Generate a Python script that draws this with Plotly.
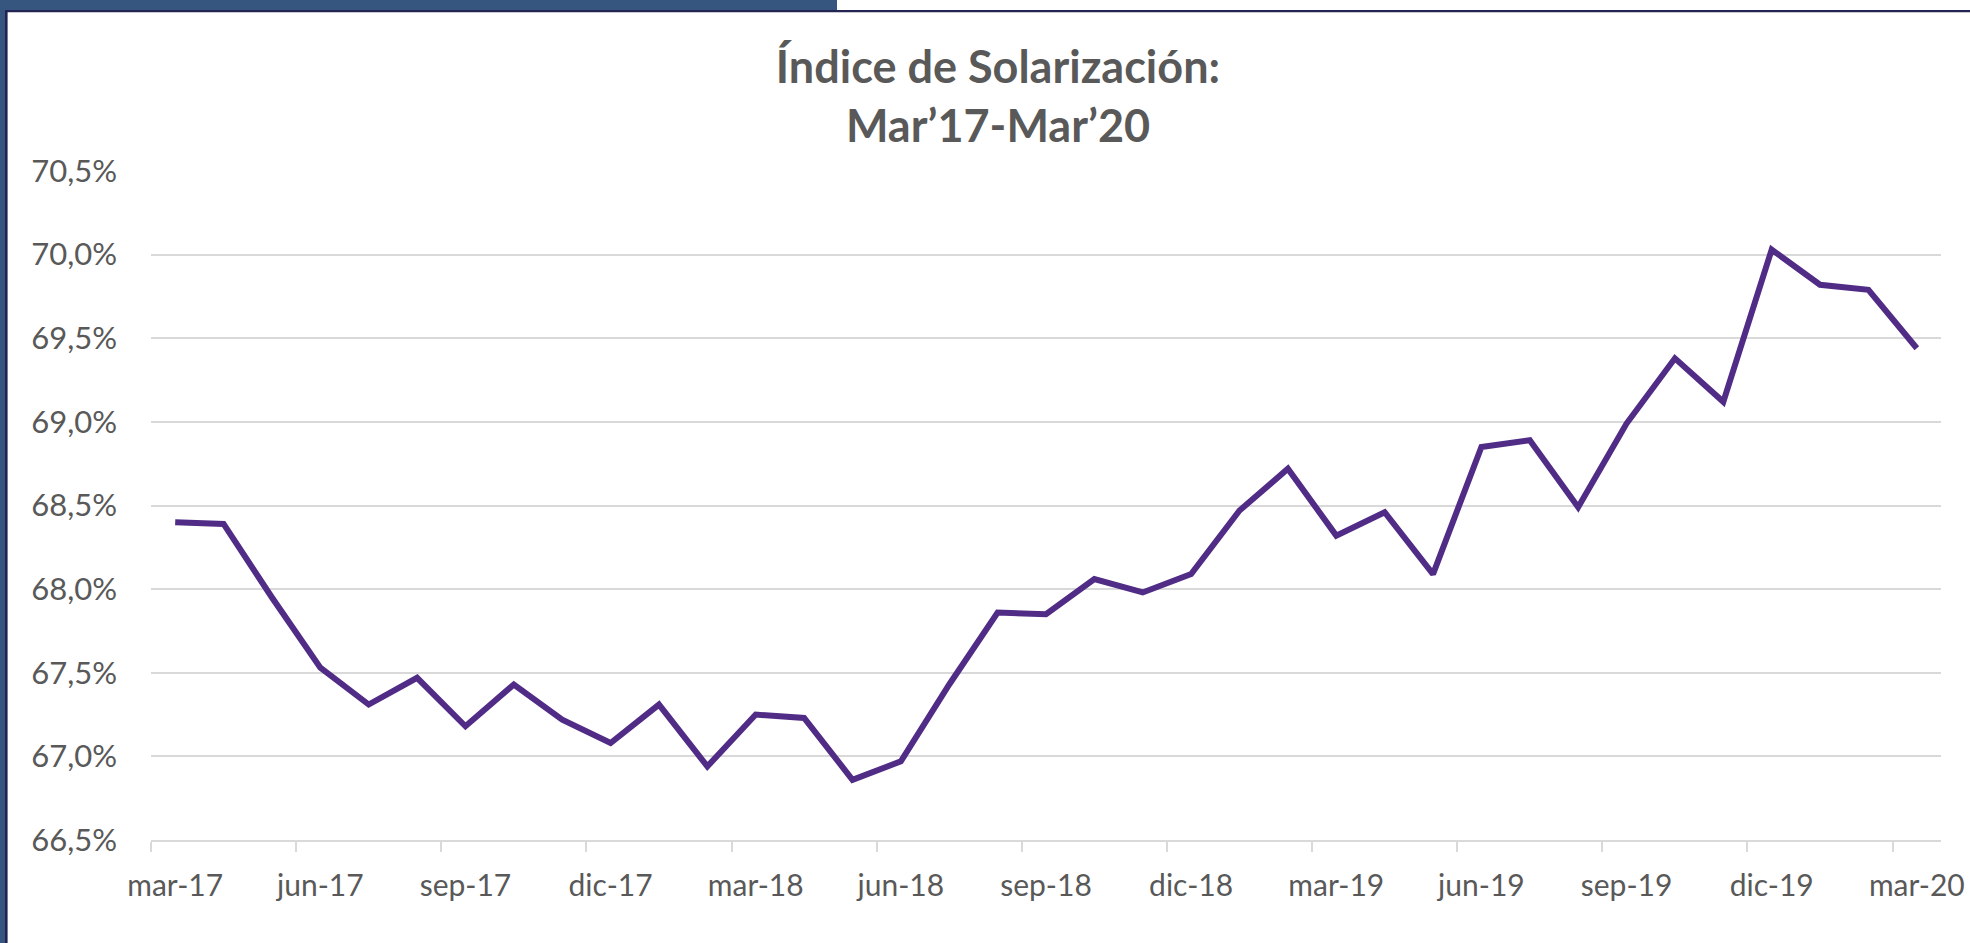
import plotly.graph_objects as go

# ---- data ----
months = ['mar-17', 'abr-17', 'may-17', 'jun-17', 'jul-17', 'ago-17', 'sep-17', 'oct-17', 'nov-17',
          'dic-17', 'ene-18', 'feb-18', 'mar-18', 'abr-18', 'may-18', 'jun-18', 'jul-18', 'ago-18',
          'sep-18', 'oct-18', 'nov-18', 'dic-18', 'ene-19', 'feb-19', 'mar-19', 'abr-19', 'may-19',
          'jun-19', 'jul-19', 'ago-19', 'sep-19', 'oct-19', 'nov-19', 'dic-19', 'ene-20', 'feb-20',
          'mar-20']
solarizacion = [68.40, 68.39, 67.95, 67.53, 67.31, 67.47, 67.18, 67.43, 67.22,
                67.08, 67.31, 66.94, 67.25, 67.23, 66.86, 66.97, 67.43, 67.86,
                67.85, 68.06, 67.98, 68.09, 68.47, 68.72, 68.32, 68.46, 68.09,
                68.85, 68.89, 68.49, 68.99, 69.38, 69.12, 70.03, 69.82, 69.79,
                69.44]
y_ticks = [66.5, 67.0, 67.5, 68.0, 68.5, 69.0, 69.5, 70.0, 70.5]
y_ticktext = ['66,5%', '67,0%', '67,5%', '68,0%', '68,5%', '69,0%', '69,5%', '70,0%', '70,5%']
title_text = '<b>Índice de Solarización:</b><br><b>Mar’17-Mar’20</b>'

# ---- layout geometry ----
W, H = 1970, 943
ML, MR, MT, MB = 151, 29, 171, 103
PW, PH = W - ML - MR, H - MT - MB

def px_x(px):
    return (px - ML) / PW

def px_y(py):
    return (H - MB - py) / PH

x_idx = list(range(len(months)))
tickvals = x_idx[::3]
ticktext = months[::3]
boundaries = [v - 0.5 for v in tickvals]

TXT = '#595959'
GRID = '#d9d9d9'
FONT = 'Lato'

fig = go.Figure()
fig.add_trace(go.Scatter(
    x=x_idx, y=solarizacion, mode='lines',
    line=dict(color='#512C86', width=6),
    customdata=months,
    hovertemplate='%{customdata}: %{y:.2f}%<extra></extra>',
    showlegend=False,
))

shapes = [
    # blue band top-left
    dict(type='rect', xref='paper', yref='paper', x0=px_x(0), x1=px_x(837), y0=px_y(10.5), y1=px_y(0),
         fillcolor='#37567f', line=dict(width=0), layer='above'),
    # blue strip left
    dict(type='rect', xref='paper', yref='paper', x0=px_x(0), x1=px_x(5), y0=px_y(H), y1=px_y(0),
         fillcolor='#37567f', line=dict(width=0), layer='above'),
    # navy border top
    dict(type='line', xref='paper', yref='paper', x0=px_x(5), x1=px_x(W), y0=px_y(11.2), y1=px_y(11.2),
         line=dict(color='#232452', width=2.2), layer='above'),
    # navy border left
    dict(type='line', xref='paper', yref='paper', x0=px_x(6.3), x1=px_x(6.3), y0=px_y(H), y1=px_y(10),
         line=dict(color='#232452', width=2.6), layer='above'),
]

fig.update_layout(
    width=W, height=H,
    margin=dict(l=ML, r=MR, t=MT, b=MB, pad=0, autoexpand=False),
    paper_bgcolor='white', plot_bgcolor='white',
    separators=',.',
    font=dict(family=FONT, color=TXT),
    title=dict(text=title_text, x=998 / W, xanchor='center', y=1 - 83 / H, yanchor='middle',
               font=dict(family=FONT, size=45, color=TXT)),
    shapes=shapes,
    xaxis=dict(
        range=[-0.5, len(months) - 0.5],
        automargin=False,
        tickmode='array', tickvals=tickvals, ticktext=ticktext,
        ticks='', showgrid=False, zeroline=False,
        showline=True, linecolor=GRID, linewidth=2,
        tickfont=dict(family=FONT, size=30, color=TXT),
        ticklabelstandoff=18,
        minor=dict(tickmode='array', tickvals=boundaries, ticks='outside', ticklen=10,
                   tickcolor=GRID, tickwidth=2, showgrid=False),
    ),
    yaxis=dict(
        range=[66.5, 70.5],
        automargin=False,
        tickmode='array', tickvals=y_ticks, ticktext=y_ticktext,
        showgrid=True, gridcolor=GRID, gridwidth=1.5,
        zeroline=False, showline=False, ticks='',
        tickfont=dict(family=FONT, size=31, color=TXT),
        ticklabelstandoff=33,
    ),
)

fig.write_html('out.html',
               config={'displayModeBar': False},
               post_script="document.body.style.margin='0';document.body.style.overflow='hidden';")
